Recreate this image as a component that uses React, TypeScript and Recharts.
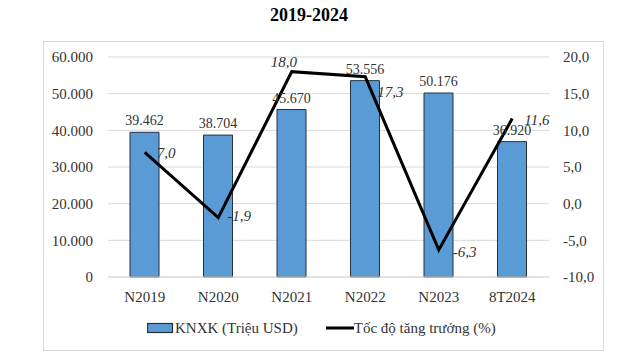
import React from "react";
import {
  ComposedChart,
  Bar,
  Line,
  XAxis,
  YAxis,
  CartesianGrid,
  LabelList,
  Legend,
} from "recharts";

const categories = ["N2019", "N2020", "N2021", "N2022", "N2023", "8T2024"];
const exportValues = [39462, 38704, 45670, 53556, 50176, 36920];
const growthRates = [7.0, -1.9, 18.0, 17.3, -6.3, 11.6];
const leftTicks = [0, 10000, 20000, 30000, 40000, 50000, 60000];
const rightTicks = [-10, -5, 0, 5, 10, 15, 20];

const barName = "KNXK (Triệu USD)";
const lineName = "Tốc độ tăng trưởng (%)";
const title = "2019-2024";

// label placement offsets for the growth line labels (style only)
const lineLabelOffsets: [number, number, string][] = [
  [12, 0, "start"],
  [9, -2, "start"],
  [-8, -10, "middle"],
  [12, 15, "start"],
  [14, 2, "start"],
  [12, 1, "start"],
];

const data = categories.map((c, i) => ({
  name: c,
  kn: exportValues[i],
  rate: growthRates[i],
}));

const FONT = "Liberation Serif";
const TEXT = "#333333";
const BAR_FILL = "#5B9BD5";
const BAR_STROKE = "#24313f";

const fmtThousands = (v: number) =>
  String(Math.round(v)).replace(/\B(?=(\d{3})+(?!\d))/g, ".");
const fmtPct = (v: number) => v.toFixed(1).replace(".", ",");

const LineLabel = (props: any) => {
  const { x, y, index, value } = props;
  const [dx, dy, anchor] = lineLabelOffsets[index] || [12, 0, "start"];
  return (
    <text
      x={x + dx}
      y={y + dy}
      dy="0.35em"
      textAnchor={anchor}
      style={{ fontFamily: FONT, fontSize: 15, fontStyle: "italic", fill: TEXT }}
    >
      {fmtPct(Number(value))}
    </text>
  );
};

const LegendContent = () => (
  <div
    style={{
      height: 30,
      display: "flex",
      alignItems: "center",
      justifyContent: "flex-start",
      fontFamily: FONT,
      fontSize: 15,
      color: TEXT,
      whiteSpace: "nowrap",
    }}
  >
    <div style={{ width: 147 }} />
    <svg width={27} height={12} style={{ marginRight: 1 }}>
      <rect x={0.5} y={1.5} width={25} height={9} fill={BAR_FILL} stroke={BAR_STROKE} strokeWidth={1.2} />
    </svg>
    <span>{barName}</span>
    <div style={{ width: 28 }} />
    <svg width={28} height={12}>
      <line x1={0} y1={6} x2={28} y2={6} stroke="#000" strokeWidth={3} />
    </svg>
    <span>{lineName}</span>
  </div>
);

const tickStyle = { fontFamily: FONT, fontSize: 15, fill: TEXT };

export default function App() {
  return (
    <div style={{ position: "absolute", left: 0, top: 0, width: 640, height: 360, background: "#fff", fontFamily: FONT }}>
      <div
        style={{
          position: "absolute",
          left: 43,
          top: 41,
          width: 559,
          height: 308,
          border: "1px solid #d9d9d9",
        }}
      />
      <div
        style={{
          position: "absolute",
          left: 0,
          top: 5,
          width: 618,
          textAlign: "center",
          fontFamily: FONT,
          fontWeight: "bold",
          fontSize: 18,
          color: "#000",
        }}
      >
        {title}
      </div>
      <div style={{ position: "absolute", left: 0, top: 0 }}>
        <ComposedChart
          width={640}
          height={360}
          data={data}
          margin={{ top: 57, right: 0, left: 0, bottom: 0 }}
          style={{ fontFamily: FONT }}
        >
          <CartesianGrid vertical={false} stroke="#d9d9d9" yAxisId="left" />
          <XAxis
            dataKey="name"
            height={53}
            tickLine={false}
            axisLine={{ stroke: "#d9d9d9" }}
            tickMargin={8}
            tick={tickStyle}
            interval={0}
          />
          <YAxis
            yAxisId="left"
            width={108}
            domain={[0, 60000]}
            ticks={leftTicks}
            tickFormatter={fmtThousands}
            tickLine={false}
            axisLine={false}
            tickMargin={9}
            tick={tickStyle}
            interval={0}
          />
          <YAxis
            yAxisId="right"
            orientation="right"
            width={91}
            domain={[-10, 20]}
            ticks={rightTicks}
            tickFormatter={fmtPct}
            tickLine={false}
            axisLine={false}
            tickMargin={8}
            tick={tickStyle}
            interval={0}
          />
          <Legend
            verticalAlign="bottom"
            content={<LegendContent />}
            wrapperStyle={{ top: 313, left: 0, width: 640, height: 30 }}
          />
          <Bar
            yAxisId="left"
            dataKey="kn"
            name={barName}
            barSize={29}
            fill={BAR_FILL}
            stroke={BAR_STROKE}
            strokeWidth={1}
            isAnimationActive={false}
          >
            <LabelList
              dataKey="kn"
              position="top"
              offset={7}
              formatter={(v: any) => fmtThousands(Number(v))}
              style={{ fontFamily: FONT, fontSize: 14, fill: TEXT }}
            />
          </Bar>
          <Line
            yAxisId="right"
            type="linear"
            dataKey="rate"
            name={lineName}
            stroke="#000"
            strokeWidth={3}
            dot={false}
            activeDot={false}
            isAnimationActive={false}
          >
            <LabelList dataKey="rate" content={<LineLabel />} />
          </Line>
        </ComposedChart>
      </div>
    </div>
  );
}
